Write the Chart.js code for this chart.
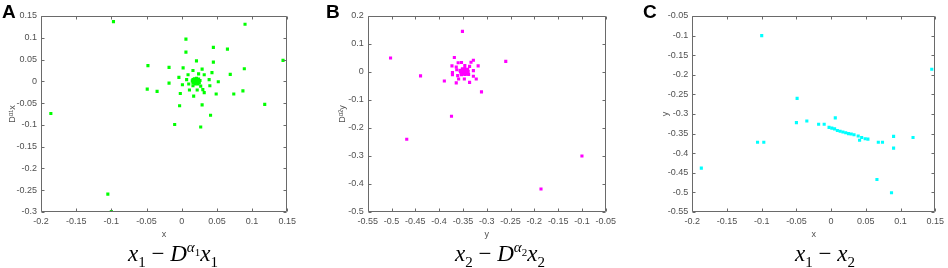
<!DOCTYPE html>
<html>
<head>
<meta charset="utf-8">
<script src="https://cdn.jsdelivr.net/npm/chart.js@4.4.0/dist/chart.umd.min.js"></script>
<style>
  body { margin: 0; background: #fff; width: 948px; height: 268px; position: relative; overflow: hidden; font-family: "Liberation Sans", Arial, sans-serif; }
  canvas { position: absolute; top: 0; }
  .letra { position: absolute; top: 2px; font-weight: bold; font-size: 19px; line-height: 19px; color: #000; }
  .leyenda { position: absolute; top: 241px; font-family: "Liberation Serif", serif; font-size: 23px; line-height: 26px; transform: translateX(-50%); white-space: nowrap; color: #000; }
  .leyenda sub, .leyenda sup { font-size: 15px; line-height: 0; }
  .leyenda sup sub { font-size: 11px; }
</style>
</head>
<body>
<canvas id="graficoA" width="300" height="240" style="left:0px"></canvas>
<canvas id="graficoB" width="310" height="240" style="left:310px"></canvas>
<canvas id="graficoC" width="320" height="240" style="left:628px"></canvas>
<div class="letra" style="left:2px">A</div>
<div class="letra" style="left:326px">B</div>
<div class="letra" style="left:643px">C</div>
<div class="leyenda" style="left:173px"><i>x</i><sub>1</sub> &minus; <i>D</i><sup><i>&alpha;</i><sub>1</sub></sup><i>x</i><sub>1</sub></div>
<div class="leyenda" style="left:500px"><i>x</i><sub>2</sub> &minus; <i>D</i><sup><i>&alpha;</i><sub>2</sub></sup><i>x</i><sub>2</sub></div>
<div class="leyenda" style="left:825px"><i>x</i><sub>1</sub> &minus; <i>x</i><sub>2</sub></div>
<script>
/* DATOS */

// PANEL A: x1 vs D^a1 x1
const aX = [-0.097, 0.090, 0.006, 0.045, 0.065, 0.006, 0.144, 0.021, 0.045, -0.048, -0.018, 0.002, 0.089, 0.029,
  0.016, 0.069, 0.043, -0.004, 0.032, 0.009, 0.024, 0.052, -0.018, 0.039, -0.049, -0.035, 0.087, -0.002, 0.049,
  0.074, 0.032, 0.017, 0.118, 0.029, -0.003, 0.041, -0.186, -0.010, 0.027, -0.105, -0.100,
  0.007, 0.010, 0.016, 0.027, 0.011, 0.022, 0.030, 0.040, 0.001,
  0.016, 0.018, 0.021, 0.024, 0.026, 0.025, 0.023, 0.019, 0.016, 0.015, 0.019, 0.022, 0.020, 0.023, 0.018,
  0.0205, 0.021, 0.017, 0.024, 0.022];
const aY = [0.137, 0.131, 0.097, 0.078, 0.074, 0.067, 0.048, 0.047, 0.044, 0.036, 0.032, 0.031, 0.029, 0.028,
  0.025, 0.016, 0.020, 0.009, 0.015, 0.015, 0.017, -0.001, -0.004, 0.004, -0.018, -0.023, -0.022, -0.028, -0.029,
  -0.029, -0.026, -0.034, -0.053, -0.054, -0.056, -0.078, -0.074, -0.099, -0.105, -0.259, -0.299,
  0.004, -0.006, -0.010, -0.011, -0.020, -0.020, -0.019, -0.010, -0.008,
  0.004, 0.006, 0.007, 0.005, 0.002, -0.003, -0.006, -0.006, -0.003, 0.001, 0.002, 0.001, -0.002, 0.003, -0.001,
  0.0005, 0.004, 0.002, -0.001, -0.004];

// PANEL B: x2 vs D^a2 x2
const bX = [-0.351, -0.502, -0.260, -0.439, -0.389, -0.311, -0.374, -0.468, -0.100, -0.186,
  -0.368, -0.328, -0.360, -0.353, -0.333, -0.373, -0.364, -0.346, -0.336, -0.318, -0.372, -0.328, -0.372,
  -0.361, -0.353, -0.338, -0.328, -0.322, -0.359, -0.347, -0.364, -0.336, -0.363, -0.356, -0.340,
  -0.354, -0.351, -0.346, -0.341, -0.339, -0.341, -0.345, -0.350, -0.354, -0.355, -0.349, -0.345, -0.347,
  -0.343, -0.351, -0.347, -0.348, -0.343];
const bY = [0.145, 0.050, 0.038, -0.014, -0.032, -0.071, -0.158, -0.240, -0.300, -0.418,
  0.052, 0.042, 0.033, 0.034, 0.035, 0.022, 0.018, 0.023, 0.020, 0.022, -0.002, 0.005, -0.010,
  -0.013, -0.010, -0.009, -0.015, -0.025, -0.025, -0.025, -0.039, -0.037, 0.008, 0.005, 0.010,
  0.006, 0.011, 0.012, 0.008, 0.002, -0.005, -0.009, -0.008, -0.003, 0.002, 0.004, 0.005, -0.002,
  0.001, -0.001, 0.002, 0.008, -0.004];

// PANEL C: x1 vs x2
const cX = [-0.100, 0.145, -0.049, 0.006, -0.050, -0.035, -0.018, -0.010, 0.039, 0.041, -0.106, -0.097,
  0.068, 0.074, 0.090, 0.118, 0.090, 0.066, 0.087, -0.187,
  -0.003, 0.001, 0.005, 0.009, 0.013, 0.017, 0.021, 0.025, 0.029, 0.033, 0.044, 0.049, 0.053];
const cY = [-0.100, -0.186, -0.260, -0.310, -0.322, -0.318, -0.326, -0.326, -0.356, -0.367, -0.372, -0.372,
  -0.372, -0.372, -0.357, -0.360, -0.387, -0.467, -0.501, -0.438,
  -0.334, -0.336, -0.338, -0.342, -0.344, -0.346, -0.348, -0.350, -0.351, -0.353, -0.360, -0.363, -0.364];

// RANGOS DE EJES (min, max, paso)
const ejeXA = [-0.2, 0.15, 0.05];
const ejeYA = [-0.3, 0.15, 0.05];
const ejeXB = [-0.55, -0.05, 0.05];
const ejeYB = [-0.5, 0.2, 0.1];
const ejeXC = [-0.2, 0.15, 0.05];
const ejeYC = [-0.55, -0.05, 0.05];

/* ESTILO */
const colorTexto = '#505050';
const colorCaja = '#6a6a6a';
const fuente = { family: '"Liberation Sans", Arial, sans-serif', size: 9 };

// CAJA ESTILO MATLAB CON MARCAS HACIA ADENTRO (UN PLUGIN POR GRAFICO)
function crearCaja(nombre) {
  return {
    id: 'caja' + nombre,
    afterDraw(chart) {
      const ctx = chart.ctx;
      const a = chart.chartArea;
      const sx = chart.scales.x, sy = chart.scales.y;
      const l = Math.round(a.left) + 0.5, r = Math.round(a.right) - 0.5;
      const t = Math.round(a.top) + 0.5, b = Math.round(a.bottom) - 0.5;
      ctx.save();
      ctx.strokeStyle = colorCaja;
      ctx.lineWidth = 1;
      ctx.beginPath();
      ctx.rect(l, t, r - l, b - t);
      sx.ticks.forEach(tk => {
        const px = Math.round(sx.getPixelForValue(tk.value)) + 0.5;
        ctx.moveTo(px, b); ctx.lineTo(px, b - 3);
        ctx.moveTo(px, t); ctx.lineTo(px, t + 3);
      });
      sy.ticks.forEach(tk => {
        const py = Math.round(sy.getPixelForValue(tk.value)) + 0.5;
        ctx.moveTo(l, py); ctx.lineTo(l + 3, py);
        ctx.moveTo(r, py); ctx.lineTo(r - 3, py);
      });
      ctx.stroke();
      ctx.restore();
    }
  };
}

function etiqueta(v) {
  return Number(v.toFixed(2)).toString();
}

// FUNCION PARA ARMAR CADA PANEL
function crearPanel(idCanvas, xs, ys, color, ejeX, ejeY, tituloX, tituloY, izq, der, tituloIzq) {
  const canvas = document.getElementById(idCanvas);
  const puntos = xs.map((x, i) => ({ x: x, y: ys[i] }));
  const padIzq = tituloIzq - 5.4;
  return new Chart(canvas, {
    type: 'scatter',
    data: {
      datasets: [{
        data: puntos,
        backgroundColor: color,
        borderWidth: 0,
        pointStyle: 'rect',
        pointRadius: 2.2,
        pointHoverRadius: 2.2
      }]
    },
    options: {
      responsive: false,
      animation: false,
      layout: { padding: { top: 16, left: padIzq, right: canvas.width - der, bottom: 0 } },
      plugins: { legend: { display: false }, tooltip: { enabled: false } },
      scales: {
        x: {
          type: 'linear', min: ejeX[0], max: ejeX[1],
          grid: { display: false, drawTicks: false }, border: { display: false },
          ticks: { stepSize: ejeX[2], autoSkip: false, maxRotation: 0, color: colorTexto, font: fuente, padding: 4, callback: etiqueta },
          title: { display: true, text: tituloX, color: colorTexto, font: fuente, padding: 0 },
          afterFit(s) { s.height = 28; }
        },
        y: {
          type: 'linear', min: ejeY[0], max: ejeY[1],
          grid: { display: false, drawTicks: false }, border: { display: false },
          ticks: { stepSize: ejeY[2], autoSkip: false, color: colorTexto, font: fuente, padding: 4, callback: etiqueta },
          title: { display: true, text: tituloY, color: colorTexto, font: fuente, padding: 0 },
          afterFit(s) { s.width = izq - padIzq; }
        }
      }
    },
    plugins: [crearCaja(idCanvas)]
  });
}

crearPanel('graficoA', aX, aY, '#00ff00', ejeXA, ejeYA, 'x', 'D\u1D45\u00B9x', 41, 288, 13);
crearPanel('graficoB', bX, bY, '#ff00ff', ejeXB, ejeYB, 'y', 'D\u1D45\u00B2y', 57.7, 303.3, 33);
crearPanel('graficoC', cX, cY, '#00ffff', ejeXC, ejeYC, 'x', 'y', 64.3, 310.3, 38);
</script>
</body>
</html>
